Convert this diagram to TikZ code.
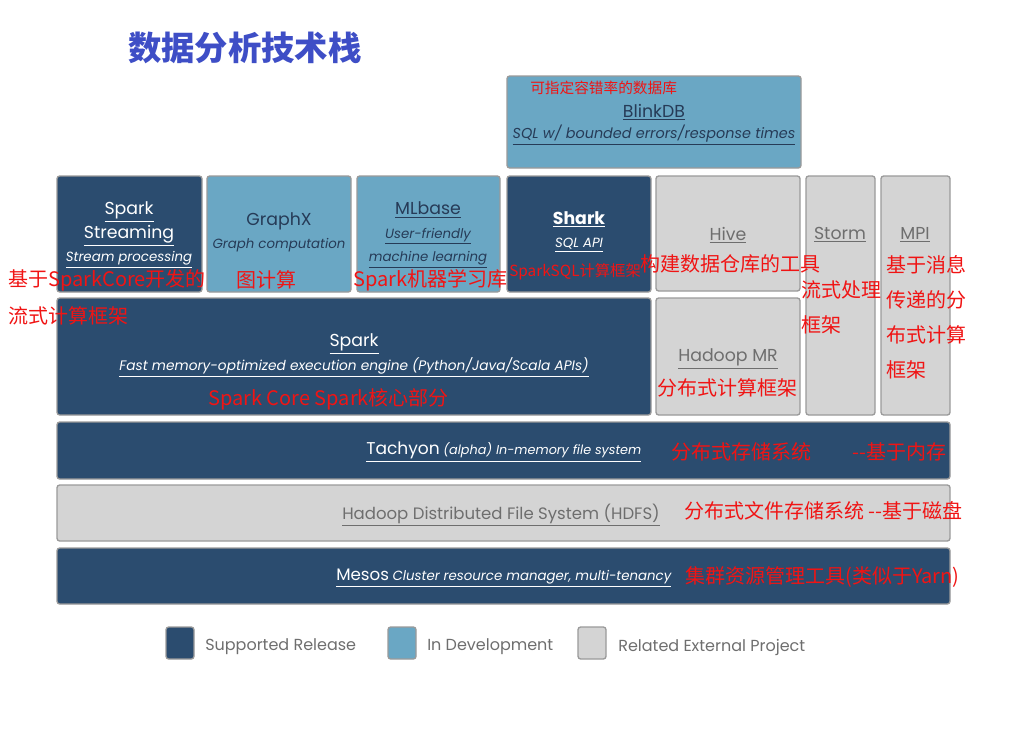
\documentclass[tikz,border=0pt]{standalone}
\usepackage{fontspec}
\setmainfont{Poppins}
\newfontfamily\cjk{Noto Sans CJK SC}
\usetikzlibrary{fit}
\definecolor{navy}{HTML}{2B4C6F}
\definecolor{skyblue}{HTML}{6AA7C4}
\definecolor{extgray}{HTML}{D4D4D4}
\definecolor{boxline}{HTML}{9A9A9A}
\definecolor{navytext}{HTML}{263B57}
\definecolor{graytext}{HTML}{6E6E6E}
\definecolor{titleblue}{HTML}{3E4EC6}
\definecolor{notered}{HTML}{F01414}
\tikzset{
  box/.style={draw=boxline, line width=1pt, rounded corners=2pt, inner sep=0pt},
  supported/.style={box, fill=navy, text=white},
  indev/.style={box, fill=skyblue, text=navytext},
  external/.style={box, fill=extgray, text=graytext},
  boxtext/.style={align=center, inner sep=0pt, font=\fontsize{13}{17.5}\selectfont},
  note/.style={text=notered, font=\cjk\fontsize{15}{18}\selectfont, inner sep=0pt, anchor=west},
  head/.style={font=\fontsize{13}{16}\selectfont},
  legend/.style={anchor=west, text=graytext, font=\fontsize{12}{13}\selectfont, inner sep=0pt},
}
\newcommand{\sub}[1]{{\fontsize{10}{14}\selectfont\itshape\underline{#1}}}
\begin{document}
\begin{tikzpicture}[x=0.75pt, y=-0.75pt]
\useasboundingbox (0,0) rectangle (1012,729);
% title
\node[text=titleblue, font=\cjk\bfseries\fontsize{25}{28}\selectfont, anchor=west, inner sep=0pt] (title) at (128,48) {数据分析技术栈};

% top layer
\node[indev, fit={(507,76) (801,168)}] (blinkdb) {};
\node[head, text=navytext] (blinkname) at (654,112) {\underline{BlinkDB}};
\node[text=navytext] (blinksub) at (654,135) {{\fontsize{10.8}{14}\selectfont\itshape\underline{SQL w/ bounded errors/response times}}};

% libraries
\node[supported, fit={(57,176) (202,292)}] (streaming) {};
\node[boxtext, text=white] (streamingtext) at (129,235) {\underline{Spark}\\\underline{Streaming}\\\sub{Stream processing}};
\node[indev, fit={(207,176) (351,292)}] (graphx) {};
\node[boxtext, text=navytext] (graphxtext) at (279,232) {GraphX\\{\fontsize{10}{14}\selectfont\itshape Graph computation}};
\node[indev, fit={(357,176) (500,292)}] (mlbase) {};
\node[boxtext, text=navytext] (mlbasetext) at (428,235) {\underline{MLbase}\\\sub{User-friendly}\\\sub{machine learning}};
\node[supported, fit={(507,176) (651,292)}] (shark) {};
\node[boxtext, text=white] (sharktext) at (579,232) {{\bfseries\underline{Shark}}\\\sub{SQL API}};
\node[external, fit={(656,176) (800,291)}] (hive) {};
\node[head, text=graytext] (hivename) at (728,235) {\underline{Hive}};
\node[external, fit={(806,176) (875,415)}] (storm) {};
\node[head, text=graytext] (stormname) at (840,235) {\underline{Storm}};
\node[external, fit={(881,176) (950,415)}] (mpi) {};
\node[head, text=graytext] (mpiname) at (915,235) {\underline{MPI}};

% core
\node[supported, fit={(57,298) (651,415)}] (spark) {};
\node[head, text=white] (sparkname) at (354,344) {\underline{Spark}};
\node[text=white] (sparksub) at (354,367) {{\fontsize{10.3}{14}\selectfont\itshape\underline{Fast memory-optimized execution engine (Python/Java/Scala APIs)}}};
\node[external, fit={(656,298) (800,415)}] (hadoopmr) {};
\node[head, text=graytext] (mrname) at (728,359) {\underline{Hadoop MR}};

% storage and resources
\node[supported, fit={(57,422) (950,479)}] (tachyon) {};
\node[text=white, anchor=west, inner sep=0pt] (tachyonname) at (366,452) {\underline{{\fontsize{12.8}{14}\selectfont Tachyon} {\fontsize{9.6}{11}\selectfont\itshape (alpha) In-memory file system}}};
\node[external, fit={(57,485) (950,541)}] (hdfs) {};
\node[text=graytext, anchor=west, inner sep=0pt, font=\fontsize{12.4}{14}\selectfont] (hdfsname) at (342,515) {\underline{Hadoop Distributed File System (HDFS)}};
\node[supported, fit={(57,548) (950,604)}] (mesos) {};
\node[text=white, anchor=west, inner sep=0pt] (mesosname) at (336,578) {\underline{{\fontsize{12.5}{14}\selectfont Mesos} {\fontsize{10}{11}\selectfont\itshape Cluster resource manager, multi-tenancy}}};

% legend
\node[supported, minimum width=21pt, minimum height=24pt] (leg1) at (180,643) {};
\node[legend] (leg1text) at (205,647) {Supported Release};
\node[indev, minimum width=21pt, minimum height=24pt] (leg2) at (402,643) {};
\node[legend] (leg2text) at (427,647) {In Development};
\node[external, minimum width=21pt, minimum height=24pt] (leg3) at (592,643) {};
\node[legend] (leg3text) at (618,647) {Related External Project};

% annotations
\node[note, font=\cjk\fontsize{11}{13}\selectfont] (n1) at (530,88) {可指定容错率的数据库};
\node[note] (n2) at (8,280) {基于SparkCore开发的};
\node[note] (n3) at (8,316) {流式计算框架};
\node[note] (n4) at (236,280) {图计算};
\node[note] (n5) at (353,280) {Spark机器学习库};
\node[note, font=\cjk\fontsize{11.5}{13}\selectfont] (n6) at (509,272) {SparkSQL计算框架};
\node[note] (n7) at (640,264) {构建数据仓库的工具};
\node[note] (n8) at (801,290) {流式处理};
\node[note] (n9) at (801,325) {框架};
\node[note] (n10) at (886,265) {基于消息};
\node[note] (n11) at (886,300) {传递的分};
\node[note] (n12) at (886,335) {布式计算};
\node[note] (n13) at (886,370) {框架};
\node[note] (n14) at (657,388) {分布式计算框架};
\node[note] (n15) at (208,399) {Spark Core Spark核心部分};
\node[note] (n16) at (671,452) {分布式存储系统};
\node[note] (n17) at (852,452) {--基于内存};
\node[note] (n18) at (684,511) {分布式文件存储系统 --基于磁盘};
\node[note] (n19) at (685,577) {集群资源管理工具(类似于Yarn)};
\end{tikzpicture}
\end{document}
